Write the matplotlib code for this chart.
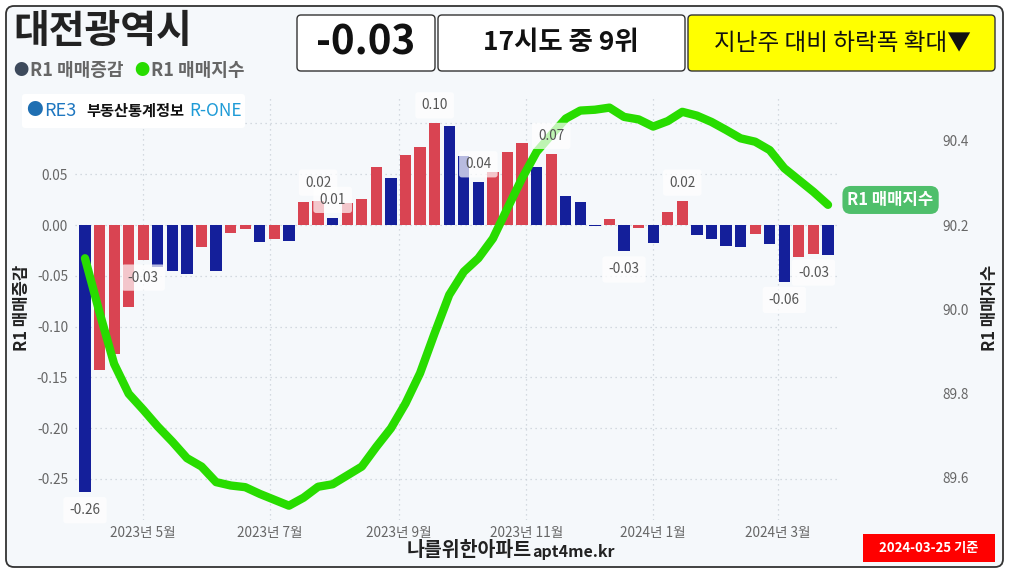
import numpy as np
import pandas as pd
import matplotlib
matplotlib.use("Agg")
import matplotlib.pyplot as plt
import matplotlib.dates as mdates
from matplotlib.patches import FancyBboxPatch

plt.rcParams['font.family'] = ['Noto Sans CJK KR', 'DejaVu Sans']

# weekly data, 2023-04-03 .. 2024-03-25
weeks = pd.date_range("2023-04-03", "2024-03-25", freq="7D")
change = [-0.263, -0.143, -0.127, -0.081, -0.034, -0.041, -0.045, -0.048, -0.022, -0.045,
          -0.008, -0.004, -0.017, -0.014, -0.016, 0.023, 0.024, 0.007, 0.022, 0.026,
          0.057, 0.046, 0.069, 0.077, 0.100, 0.097, 0.068, 0.042, 0.052, 0.072,
          0.081, 0.057, 0.070, 0.029, 0.023, -0.001, 0.006, -0.026, -0.003, -0.018,
          0.013, 0.024, -0.010, -0.014, -0.021, -0.022, -0.009, -0.019, -0.056, -0.031,
          -0.029, -0.030]
index = [90.121, 89.992, 89.870, 89.799, 89.761, 89.721, 89.685, 89.646, 89.626, 89.589,
         89.581, 89.577, 89.561, 89.547, 89.533, 89.552, 89.578, 89.584, 89.605, 89.626,
         89.673, 89.717, 89.776, 89.848, 89.943, 90.034, 90.089, 90.121, 90.168, 90.240,
         90.311, 90.374, 90.414, 90.453, 90.472, 90.474, 90.479, 90.457, 90.451, 90.434,
         90.447, 90.469, 90.460, 90.445, 90.426, 90.406, 90.398, 90.378, 90.335, 90.307,
         90.279, 90.248]
label_idx = [0, 4, 16, 17, 24, 27, 32, 37, 41, 48, 50]
month_ticks = pd.to_datetime(["2023-05-01", "2023-07-01", "2023-09-01",
                              "2023-11-01", "2024-01-01", "2024-03-01"])
month_labels = ["2023년 5월", "2023년 7월", "2023년 9월", "2023년 11월", "2024년 1월", "2024년 3월"]
left_ticks = [-0.25, -0.20, -0.15, -0.10, -0.05, 0.00, 0.05, 0.10]
right_ticks = [89.6, 89.8, 90.0, 90.2, 90.4]

RED = '#d94452'
BLUE = '#141f9a'
GREEN = '#28dc00'

W, H = 1009, 574
fig = plt.figure(figsize=(W / 100, H / 100), dpi=100)
fig.patch.set_facecolor('white')


def box(x0, y0, x1, y1, fc, ec='none', lw=1.0, r=5, z=0, alpha=1):
    p = FancyBboxPatch((x0 / 100, (H - y1) / 100), (x1 - x0) / 100, (y1 - y0) / 100,
                       boxstyle=f"round,pad=0,rounding_size={r / 100}",
                       transform=fig.dpi_scale_trans, fc=fc, ec=ec, lw=lw,
                       zorder=z, alpha=alpha)
    fig.add_artist(p)


def txt(x, y, s, **kw):
    kw.setdefault('va', 'center')
    kw.setdefault('zorder', 20)
    fig.text(x / 100, (H - y) / 100, s, transform=fig.dpi_scale_trans, **kw)


# outer frame
box(6, 6, 1003, 567, '#f5f8fb', '#333333', lw=1.3, r=8, z=-10)

# axes
ax = fig.add_axes([75 / W, 1 - 520 / H, 763 / W, 425 / H])
ax.set_facecolor('none')
ax2 = ax.twinx()

x = mdates.date2num(weeks)
colors = [BLUE] + [RED if change[i] > change[i - 1] else BLUE for i in range(1, len(change))]
ax.bar(x, change, width=5.4, color=colors, zorder=3)

ax.set_xlim(x[0] - 4.8, x[-1] + 4.8)
ax.set_ylim(-0.2904, 0.128)
ax2.set_ylim(89.499, 90.509)

# top tick (0.10) sits under the R-ONE logo in the original, so it is left unlabeled here
ax.set_yticks(left_ticks)
ax.set_yticklabels([f"{v:.2f}" if v < 0.1 else "" for v in left_ticks])
ax.set_xticks(mdates.date2num(month_ticks))
ax.set_xticklabels(month_labels)
ax2.set_yticks(right_ticks)
ax2.set_yticklabels([f"{v:.1f}" for v in right_ticks])

ax.tick_params(axis='both', length=0, labelsize=9.8, labelcolor='#666666')
ax.tick_params(axis='y', pad=5)
ax.tick_params(axis='x', pad=4)
ax2.tick_params(axis='y', length=0, labelsize=9.8, labelcolor='#666666', pad=75)

ax.grid(True, linestyle=(0, (1, 3)), color='#c9d0d8', lw=0.9, zorder=0)
for a in (ax, ax2):
    for s in a.spines.values():
        s.set_visible(False)

ax2.plot(x, index, color=GREEN, lw=6, solid_capstyle='round', solid_joinstyle='round', zorder=4)

# value labels
for i in label_idx:
    v = change[i]
    off = 13 if v > 0 else -13
    ax2.annotate(f"{v:.2f}", xy=(x[i], v), xycoords=ax.transData,
                 xytext=(0, off), textcoords='offset points', ha='center', va='center',
                 fontsize=9.8, color='#555555', zorder=10,
                 bbox=dict(boxstyle='round,pad=0.45,rounding_size=0.2', fc='white', ec='none', alpha=0.7))

# end label of index line
ax2.annotate("R1 매매지수", xy=(x[-1], index[-1]), xytext=(14, 3.5), textcoords='offset points',
             ha='left', va='center', fontsize=12, fontweight='bold', color='white', zorder=10,
             bbox=dict(boxstyle='round,pad=0.3,rounding_size=0.5', fc='#4fbf6b', ec='none'))

# axis titles
txt(22, 308, "R1 매매증감", rotation=90, ha='center', fontsize=12, fontweight='bold', color='#222222')
txt(990, 308, "R1 매매지수", rotation=90, ha='center', fontsize=12, fontweight='bold', color='#222222')

# header
txt(13, 32, "대전광역시", ha='left', fontsize=28, fontweight='bold', color='#222222')
txt(13, 70, "●", ha='left', fontsize=11, color='#3d4a5c')
txt(30, 70, "R1 매매증감", ha='left', fontsize=13, fontweight='bold', color='#666666')
txt(134, 70, "●", ha='left', fontsize=11, color=GREEN)
txt(151, 70, "R1 매매지수", ha='left', fontsize=13, fontweight='bold', color='#666666')

box(297, 15, 435, 71, 'white', '#333333', lw=1.0, r=4, z=5)
box(438, 15, 685, 71, 'white', '#333333', lw=1.0, r=4, z=5)
box(688, 15, 995, 71, 'yellow', '#333333', lw=1.0, r=4, z=5)
txt(366, 43, "-0.03", ha='center', fontsize=29, fontweight='bold', color='#111111')
txt(561, 43, "17시도 중 9위", ha='center', fontsize=19, fontweight='bold', color='#111111')
txt(842, 43, "지난주 대비 하락폭 확대▼", ha='center', fontsize=17, color='#111111')

# R-ONE logo
box(22, 94, 245, 128, 'white', r=3, z=5)
txt(26, 111, "●", ha='left', fontsize=12, color='#1f6fb2')
txt(44, 111, "RE3", ha='left', fontsize=13, color='#1f77c0')
txt(86, 111, "부동산통계정보", ha='left', fontsize=11, fontweight='bold', color='#111111')
txt(189, 111, "R-ONE", ha='left', fontsize=12.5, color='#1e9bd7')

# footer
txt(532, 550, "나를위한아파트", ha='right', fontsize=14, fontweight='bold', color='#222222')
txt(532, 552, "apt4me.kr", ha='left', fontsize=11.5, fontweight='bold', color='#222222')
box(863, 534, 995, 562, '#ff0000', r=0, z=5)
txt(929, 548, "2024-03-25 기준", ha='center', fontsize=9.5, fontweight='bold', color='white')

fig.savefig("out.png", dpi=100)
